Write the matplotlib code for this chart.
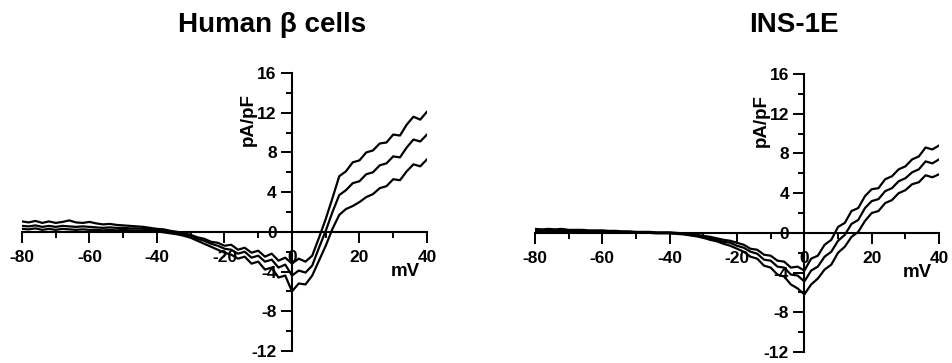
import matplotlib
matplotlib.use("Agg")
import matplotlib.pyplot as plt
from matplotlib.ticker import MultipleLocator
import numpy as np

plt.rcParams['font.family'] = ['Liberation Sans', 'DejaVu Sans']
plt.rcParams['font.weight'] = 'bold'
plt.rcParams['axes.unicode_minus'] = False

# membrane potential, mV (one sample every 2 mV)
mv = np.arange(-80, 41, 2)

# Human beta cells, current density pA/pF (mean + SEM, mean, mean - SEM)
human_upper = [1.05, 0.95, 1.1, 0.9, 1.05, 0.9, 1.0, 1.15, 0.95, 0.9,
               1.0, 0.85, 0.75, 0.8, 0.7, 0.65, 0.6, 0.55, 0.5, 0.4,
               0.3, 0.25, 0.1, 0.0, -0.15, -0.3, -0.55, -0.7, -1.0, -1.1,
               -1.4, -1.3, -1.8, -1.6, -2.1, -1.9, -2.5, -2.2, -2.9, -2.6,
               -3.2, -2.7, -3.0, -2.4, -0.6, 1.3, 3.4, 5.6, 6.1, 7.0,
               7.2, 8.0, 8.2, 8.9, 9.0, 9.8, 9.7, 10.8, 11.6, 11.3, 12.1]
human_mean = [0.6, 0.55, 0.65, 0.5, 0.6, 0.5, 0.6, 0.55, 0.5, 0.55,
              0.5, 0.45, 0.4, 0.45, 0.4, 0.4, 0.35, 0.35, 0.3, 0.25,
              0.2, 0.1, 0.0, -0.1, -0.25, -0.4, -0.7, -0.9, -1.2, -1.4,
              -1.7, -1.8, -2.2, -2.0, -2.6, -2.4, -3.0, -2.8, -3.6, -3.3,
              -4.4, -3.9, -4.1, -3.4, -1.6, 0.1, 2.0, 3.7, 4.2, 4.9,
              5.1, 5.8, 6.0, 6.7, 6.9, 7.6, 7.5, 8.5, 9.3, 9.1, 9.8]
human_lower = [0.3, 0.25, 0.35, 0.2, 0.3, 0.2, 0.3, 0.25, 0.2, 0.25,
               0.2, 0.2, 0.15, 0.2, 0.15, 0.2, 0.15, 0.15, 0.1, 0.1,
               0.05, -0.05, -0.15, -0.25, -0.4, -0.6, -0.9, -1.2, -1.5, -1.8,
               -2.1, -2.3, -2.7, -2.5, -3.2, -3.0, -3.8, -3.6, -4.6, -4.4,
               -6.0, -5.2, -5.3, -4.4, -2.9, -1.4, 0.3, 1.7, 2.3, 2.6,
               3.0, 3.5, 3.8, 4.4, 4.6, 5.3, 5.2, 6.1, 6.8, 6.6, 7.3]

# INS-1E cells
ins_upper = [0.4, 0.35, 0.4, 0.35, 0.4, 0.3, 0.3, 0.3, 0.25, 0.25,
             0.25, 0.2, 0.2, 0.15, 0.15, 0.1, 0.1, 0.1, 0.05, 0.05,
             0.05, 0.0, -0.05, -0.1, -0.2, -0.3, -0.4, -0.55, -0.7, -0.8,
             -1.0, -1.2, -1.6, -1.7, -2.2, -2.3, -2.8, -2.9, -3.5, -3.4,
             -3.8, -2.6, -2.3, -1.2, -0.7, 0.6, 1.0, 2.2, 2.5, 3.7,
             4.4, 4.5, 5.4, 5.7, 6.4, 6.7, 7.4, 7.7, 8.6, 8.4, 8.8]
ins_mean = [0.25, 0.2, 0.25, 0.2, 0.25, 0.2, 0.2, 0.2, 0.15, 0.15,
            0.15, 0.1, 0.1, 0.1, 0.1, 0.05, 0.05, 0.05, 0.0, 0.0,
            0.0, -0.05, -0.1, -0.2, -0.3, -0.4, -0.55, -0.7, -0.9, -1.0,
            -1.3, -1.5, -1.9, -2.1, -2.7, -2.8, -3.4, -3.5, -4.2, -4.3,
            -4.9, -3.8, -3.4, -2.4, -1.9, -0.8, -0.2, 0.9, 1.3, 2.5,
            3.2, 3.4, 4.2, 4.5, 5.2, 5.5, 6.1, 6.4, 7.2, 7.0, 7.4]
ins_lower = [0.15, 0.1, 0.15, 0.1, 0.15, 0.1, 0.1, 0.1, 0.1, 0.05,
             0.05, 0.05, 0.05, 0.05, 0.0, 0.0, 0.0, 0.0, -0.05, -0.05,
             -0.05, -0.1, -0.15, -0.25, -0.35, -0.5, -0.7, -0.85, -1.1, -1.3,
             -1.6, -1.9, -2.4, -2.6, -3.3, -3.5, -4.2, -4.4, -5.2, -5.6,
             -6.2, -5.2, -4.6, -3.7, -3.2, -2.0, -1.4, -0.4, 0.1, 1.2,
             2.0, 2.2, 3.0, 3.3, 4.0, 4.3, 4.9, 5.1, 5.8, 5.6, 5.9]

x_ticks = [-80, -60, -40, -20, 0, 20, 40]
y_ticks = [-12, -8, -4, 0, 4, 8, 12, 16]


def iv_panel(ax, traces):
    for tr in traces:
        ax.plot(mv, tr, color='black', lw=1.6, zorder=3)
    ax.set_xlim(-80, 40)
    ax.set_ylim(-12, 16)
    ax.spines['left'].set_position(('data', 0))
    ax.spines['bottom'].set_position(('data', 0))
    ax.spines['top'].set_visible(False)
    ax.spines['right'].set_visible(False)
    for s in ['left', 'bottom']:
        ax.spines[s].set_linewidth(1.5)
    ax.set_xticks(x_ticks)
    ax.set_yticks(y_ticks)
    ax.xaxis.set_minor_locator(MultipleLocator(10))
    ax.yaxis.set_minor_locator(MultipleLocator(2))
    ax.tick_params(which='major', direction='out', length=8, width=1.4,
                   labelsize=12.5)
    ax.tick_params(axis='x', which='major', pad=5)
    ax.tick_params(axis='y', which='major', pad=3)
    ax.tick_params(which='minor', direction='out', length=4.5, width=1.4)
    for lab in ax.get_xticklabels() + ax.get_yticklabels():
        lab.set_fontweight('bold')
    ax.text(-12.8, 11.3, 'pA/pF', rotation=90, ha='center', va='center',
            fontsize=13.5, fontweight='bold')
    ax.text(33.5, -4.0, 'mV', ha='center', va='center',
            fontsize=13.5, fontweight='bold')
    ax.patch.set_visible(False)


fig = plt.figure(figsize=(9.52, 3.63), dpi=100)
ax1 = fig.add_axes([0.0231, 0.0331, 0.4254, 0.7658])
ax2 = fig.add_axes([0.5620, 0.0303, 0.4244, 0.7658])

iv_panel(ax1, [human_upper, human_mean, human_lower])
iv_panel(ax2, [ins_upper, ins_mean, ins_lower])

fig.text(272 / 952, 1 - 25 / 363, 'Human β cells', ha='center', va='center',
         fontsize=20, fontweight='bold')
fig.text(794 / 952, 1 - 25 / 363, 'INS-1E', ha='center', va='center',
         fontsize=20, fontweight='bold')

fig.savefig('out.png', dpi=100)
